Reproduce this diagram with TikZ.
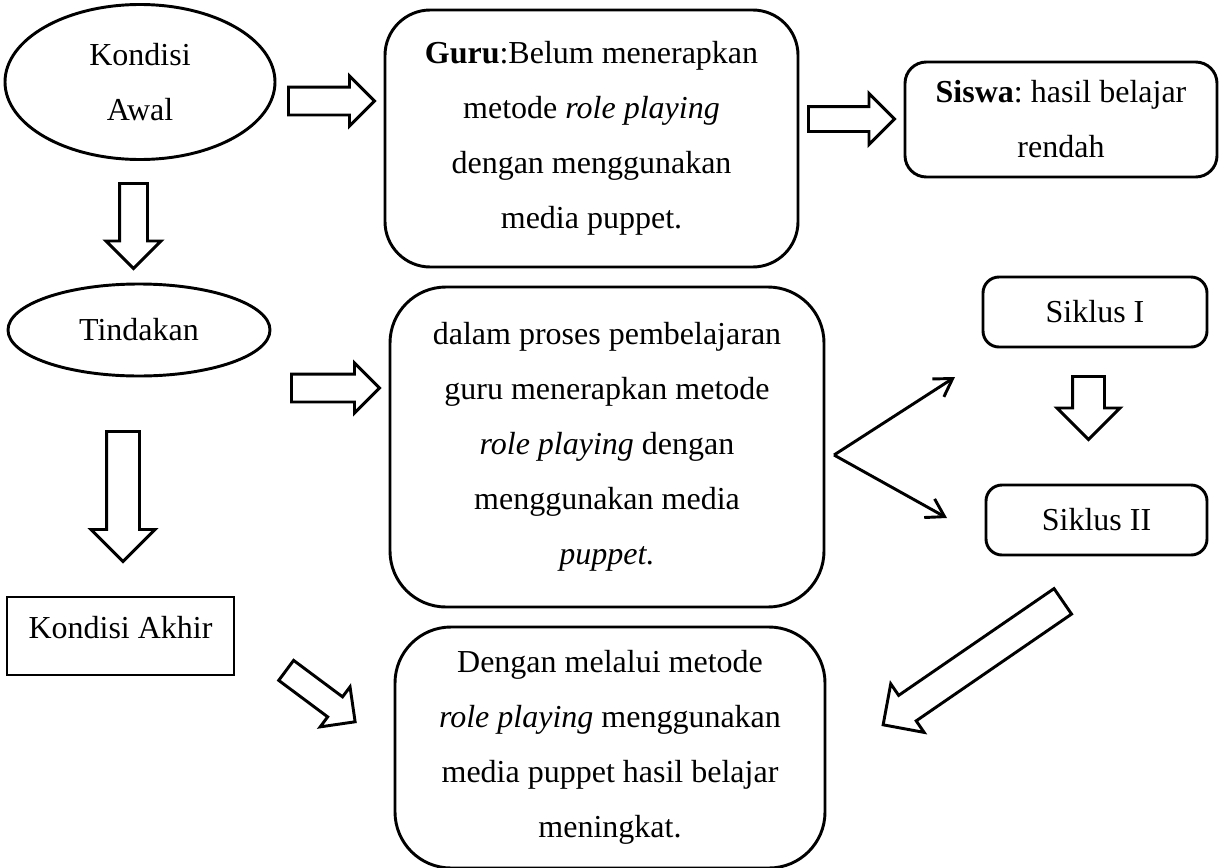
\documentclass[tikz,border=0pt]{standalone}
\usepackage{fontspec}
\setmainfont{Liberation Serif}
\usepackage{tikz}
\usetikzlibrary{shapes.geometric,shapes.arrows,arrows.meta}
\newcommand{\pix}{0.375pt}
\frenchspacing

\begin{document}
\begin{tikzpicture}[x=0.375pt,y=-0.375pt]
	\tikzstyle{txt} = [font=\fontsize{12}{20.6}\selectfont, align=center, inner sep=0pt]
	\tikzstyle{oval} = [txt, draw=black, line width=1.1pt, ellipse]
	\tikzstyle{kotak} = [txt, draw=black, line width=1.1pt]
	\tikzstyle{panah} = [draw=black, line width=1.1pt, single arrow, inner xsep=0pt, minimum width=0pt, anchor=tail]
	\tikzstyle{garis} = [draw=black, line width=1.1pt, -{Straight Barb[length=6.5pt,width=8pt]}]
	\useasboundingbox (0,0) rectangle (1223,867);

		\node[oval, minimum width=270*\pix, minimum height=155*\pix] (awal) at (140,82) {Kondisi\\Awal};
		\node[kotak, rounded corners=17pt, minimum width=413*\pix, minimum height=257*\pix] (guru) at (591.5,138.5)
			{\textbf{Guru}:Belum menerapkan\\metode \textit{role playing}\\dengan menggunakan\\media puppet.};
		\node[kotak, rounded corners=8pt, minimum width=312*\pix, minimum height=115*\pix] (siswa) at (1061,119.5)
			{\textbf{Siswa}: hasil belajar\\rendah};
		\node[oval, minimum width=262*\pix, minimum height=92*\pix] (tindakan) at (139,330) {Tindakan};
		\node[kotak, rounded corners=21pt, minimum width=434*\pix, minimum height=320*\pix] (proses) at (607,447)
			{dalam proses pembelajaran\\guru menerapkan metode\\\textit{role playing} dengan\\menggunakan media\\\textit{puppet.}};
		\node[kotak, rounded corners=6pt, minimum width=224*\pix, minimum height=70*\pix] (siklusa) at (1095,312) {Siklus I};
		\node[kotak, rounded corners=6pt, minimum width=221*\pix, minimum height=70*\pix] (siklusb) at (1096.5,520) {Siklus II};
		\node[kotak, minimum width=227*\pix, text height=41*\pix, text depth=37*\pix] (akhir) at (120.5,636) {Kondisi Akhir};
		\node[kotak, rounded corners=21pt, minimum width=430*\pix, minimum height=241*\pix] (hasil) at (610,747.5)
			{Dengan melalui metode\\\textit{role playing} menggunakan\\media puppet hasil belajar\\meningkat.};

		\node[panah, inner ysep=12.5*\pix, single arrow head extend=11*\pix, minimum height=86*\pix] (p1) at (287,101) {};
		\node[panah, inner ysep=11*\pix, single arrow head extend=13*\pix, minimum height=86*\pix] (p2) at (807,119) {};
		\node[panah, inner ysep=12.5*\pix, single arrow head extend=11*\pix, minimum height=88*\pix] (p3) at (290,388) {};
		\node[panah, rotate=-90, inner ysep=12.5*\pix, single arrow head extend=13.5*\pix, minimum height=85*\pix] (d1) at (133.5,182) {};
		\node[panah, rotate=-90, inner ysep=15*\pix, single arrow head extend=15.5*\pix, minimum height=130*\pix] (d2) at (123,430) {};
		\node[panah, rotate=-90, inner ysep=14.5*\pix, single arrow head extend=15.5*\pix, minimum height=63*\pix] (d3) at (1088.5,375) {};
		\node[panah, rotate=214.5, inner ysep=14*\pix, single arrow head extend=14*\pix, minimum height=218*\pix] (d4) at (1064,600.5) {};
		\node[panah, rotate=-36.7, inner ysep=11*\pix, single arrow head extend=12.5*\pix, minimum height=86*\pix] (d5) at (285,669.5) {};

		\coordinate (cabang) at (834,455);
		\coordinate (ujunga) at (955,377);
		\coordinate (ujungb) at (947,518);
		\draw[garis] (cabang) -- (ujunga);
		\draw[garis] (cabang) -- (ujungb);
	\end{tikzpicture}
\end{document}
